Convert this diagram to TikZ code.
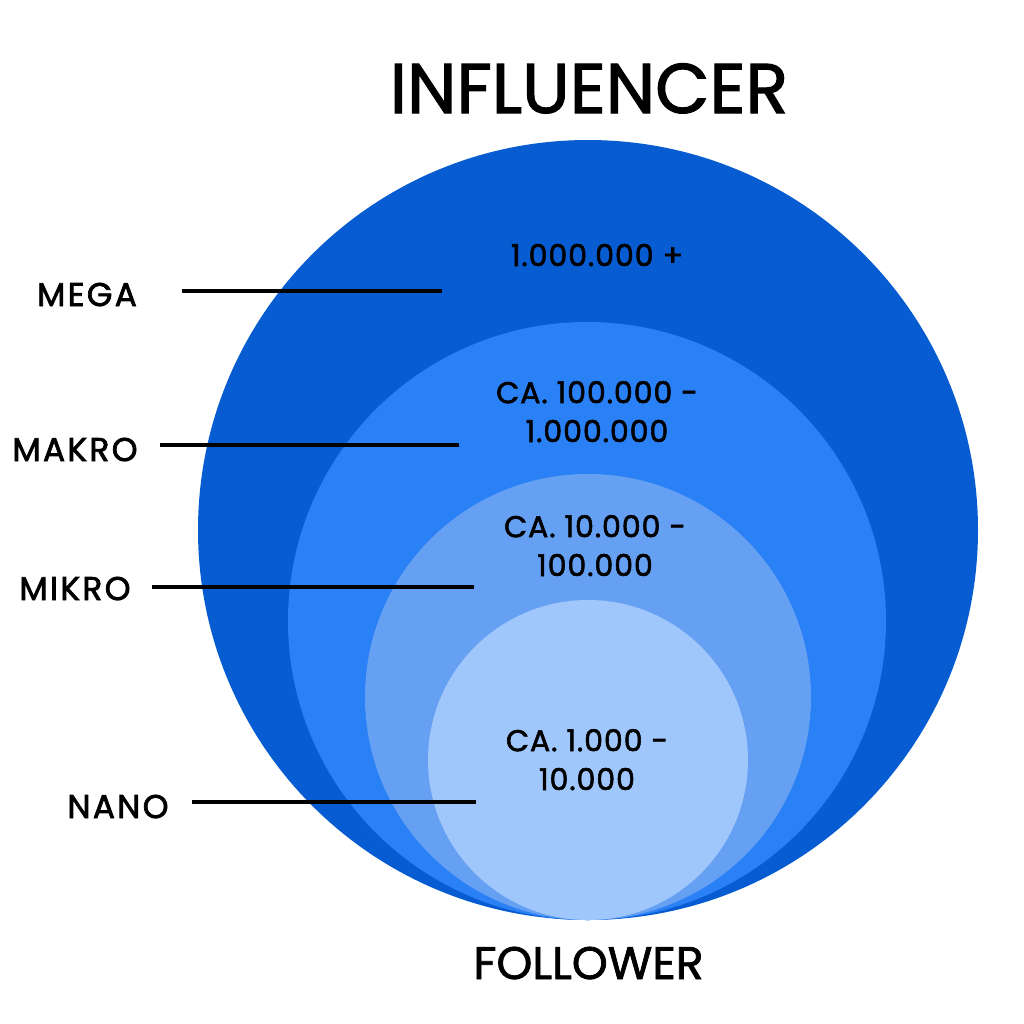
\documentclass[tikz,border=0pt]{standalone}
\usepackage{fontspec}
\setmainfont{Poppins}[FakeBold=1.6]
\newfontfamily\sidefont{Poppins}[FakeBold=2.2,LetterSpace=7]
\newfontfamily\numfont{Poppins}[FakeBold=1.9,LetterSpace=3]
\definecolor{cmega}{RGB}{6,92,208}
\definecolor{cmakro}{RGB}{42,128,245}
\definecolor{cmikro}{RGB}{102,160,243}
\definecolor{cnano}{RGB}{160,199,252}
\begin{document}
\begin{tikzpicture}[x=0.2mm,y=-0.2mm,
  sidelabel/.style={anchor=base,inner sep=0pt,font=\sidefont\fontsize{18.7}{22}\selectfont},
  numlabel/.style={anchor=base,inner sep=0pt,align=center,font=\numfont\fontsize{17.1}{22.1}\selectfont},
  pointer/.style={line width=2.3pt,black}]
\useasboundingbox (0,0) rectangle (1024,1024);
\fill[white] (0,0) rectangle (1024,1024);
% circles
\fill[cmega] (588,530) circle (390);
\fill[cmakro] (587,621) circle (299);
\fill[cmikro] (588,697) circle (223);
\fill[cnano] (588,760) circle (160);
% titles
\node[anchor=base,inner sep=0pt,font=\fontsize{40}{44}\selectfont] (title) at (589,113) {INFLUENCER};
\node[anchor=base,inner sep=0pt,font=\fontsize{26}{30}\selectfont] (follower) at (588.5,979) {FOLLOWER};
% numbers (base anchor = last line)
\node[numlabel] (nmega) at (597,266) {1.000.000 +};
\node[numlabel] (nmakro) at (597,442) {CA. 100.000 -\\1.000.000};
\node[numlabel] (nmikro) at (595,576) {CA. 10.000 -\\100.000};
\node[numlabel] (nnano) at (587,790) {CA. 1.000 -\\10.000};
% side labels
\node[sidelabel] (lmega) at (87,306) {MEGA};
\node[sidelabel] (lmakro) at (75,461) {MAKRO};
\node[sidelabel] (lmikro) at (75,600) {MIKRO};
\node[sidelabel] (lnano) at (118,818) {NANO};
% pointers
\coordinate (pmega1) at (182,291);
\coordinate (pmega2) at (442,291);
\coordinate (pmakro1) at (160,445);
\coordinate (pmakro2) at (459,445);
\coordinate (pmikro1) at (152,587);
\coordinate (pmikro2) at (474,587);
\coordinate (pnano1) at (192,802);
\coordinate (pnano2) at (476,802);
\draw[pointer] (pmega1) -- (pmega2);
\draw[pointer] (pmakro1) -- (pmakro2);
\draw[pointer] (pmikro1) -- (pmikro2);
\draw[pointer] (pnano1) -- (pnano2);
\end{tikzpicture}
\end{document}
